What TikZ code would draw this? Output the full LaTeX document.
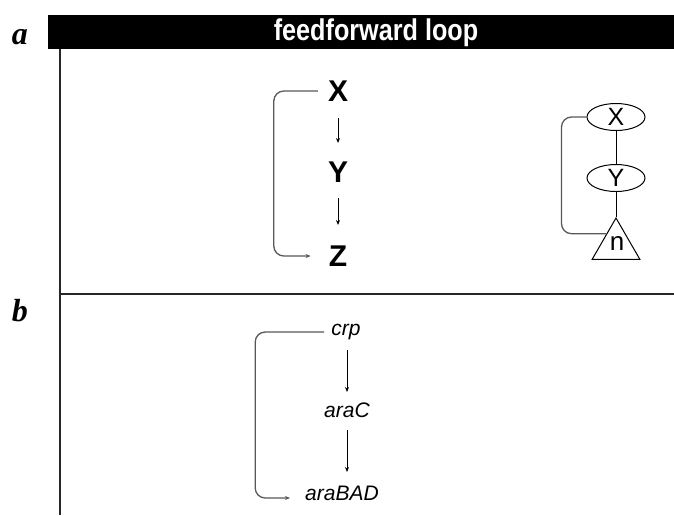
\documentclass[tikz,border=0pt]{standalone}
\usepackage{fontspec}
\setsansfont{Liberation Sans}
\newfontfamily\narrowsans[FakeStretch=0.84]{Liberation Sans}
\newfontfamily\lblserif{Liberation Serif}
\usetikzlibrary{arrows.meta,shapes.geometric,calc}
\begin{document}
\begin{tikzpicture}[x=1pt,y=-1pt,
  panellabel/.style={font=\fontsize{32}{32}\selectfont\lblserif\itshape\bfseries, inner sep=0},
  title/.style={font=\fontsize{30}{30}\selectfont\narrowsans\bfseries, text=white, inner sep=0},
  big/.style={font=\fontsize{30}{30}\selectfont\sffamily\bfseries, inner sep=0},
  gene/.style={font=\fontsize{21}{21}\selectfont\sffamily\itshape, inner sep=0},
  elli/.style={draw, ellipse, minimum width=58pt, minimum height=27pt, inner sep=0, line width=1pt, font=\fontsize{25}{25}\selectfont\sffamily},
  tri/.style={draw, regular polygon, regular polygon sides=3, minimum size=55pt, inner sep=0, line width=1pt},
  arr/.style={-{Stealth[length=5pt,width=4pt]}, line width=0.8pt},
  link/.style={line width=1pt},
  gbr/.style={draw=black!65, line width=1.3pt, rounded corners=10pt},
  divider/.style={line width=1.8pt, draw=black!85}
]
\useasboundingbox (0,0) rectangle (674,515);
\fill[white] (0,0) rectangle (674,515);

% header and frame
\fill[black] (48,15) rectangle (674,49);
\node[title] (ttl) at (376,33) {feedforward loop};
\node[panellabel] (la) at (20,37) {a};
\node[panellabel] (lb) at (20,311) {b};
\coordinate (vtop) at (60,49);
\coordinate (vbot) at (60,515);
\coordinate (hl) at (60,294);
\coordinate (hr) at (674,294);
\draw[divider] (vtop) -- (vbot);
\draw[divider] (hl) -- (hr);

% panel a, left
\node[big] (X) at (338,91) {X};
\node[big] (Y) at (338,172) {Y};
\node[big] (Z) at (338,256) {Z};
\draw[arr, shorten <=27pt, shorten >=29pt] (X.center) -- (Y.center);
\draw[arr, shorten <=26pt, shorten >=31pt] (Y.center) -- (Z.center);
\draw[gbr, -{Stealth[length=5pt,width=4pt]}] ([xshift=-10pt]X.west) -| ([xshift=-54pt]X.west |- Z.west) -- ([xshift=-18pt]Z.west);

% panel a, right
\node[elli] (RX) at (616,117) {X};
\node[elli] (RY) at (616,178) {Y};
\node[tri, anchor=corner 1] (T) at (616,217) {};
\node[font=\fontsize{26}{26}\selectfont\sffamily, inner sep=0] (n) at (617,243) {n};
\draw[link] (RX.south) -- (RY.north);
\draw[link] (RY.south) -- (T.corner 1);
\coordinate (tl) at ($(T.corner 1)!0.39!(T.corner 2)$);
\draw[gbr] (RX.west) -| ([xshift=-25pt]RX.west |- tl) -- (tl);

% panel b
\node[gene] (crp) at (346,332) {crp};
\node[gene] (araC) at (347,410) {araC};
\node[gene] (araBAD) at (342,493) {araBAD};
\draw[arr, shorten <=18pt, shorten >=18pt] (crp.center -| araC.center) -- (araC.center);
\draw[arr, shorten <=20pt, shorten >=21pt] (araC.center) -- (araC.center |- araBAD.center);
\coordinate (bend) at (290,498);
\draw[gbr, -{Stealth[length=5pt,width=4pt]}] ([xshift=-7pt]crp.west) -| ([xshift=-76pt]crp.west |- bend) -- (bend);
\end{tikzpicture}
\end{document}
